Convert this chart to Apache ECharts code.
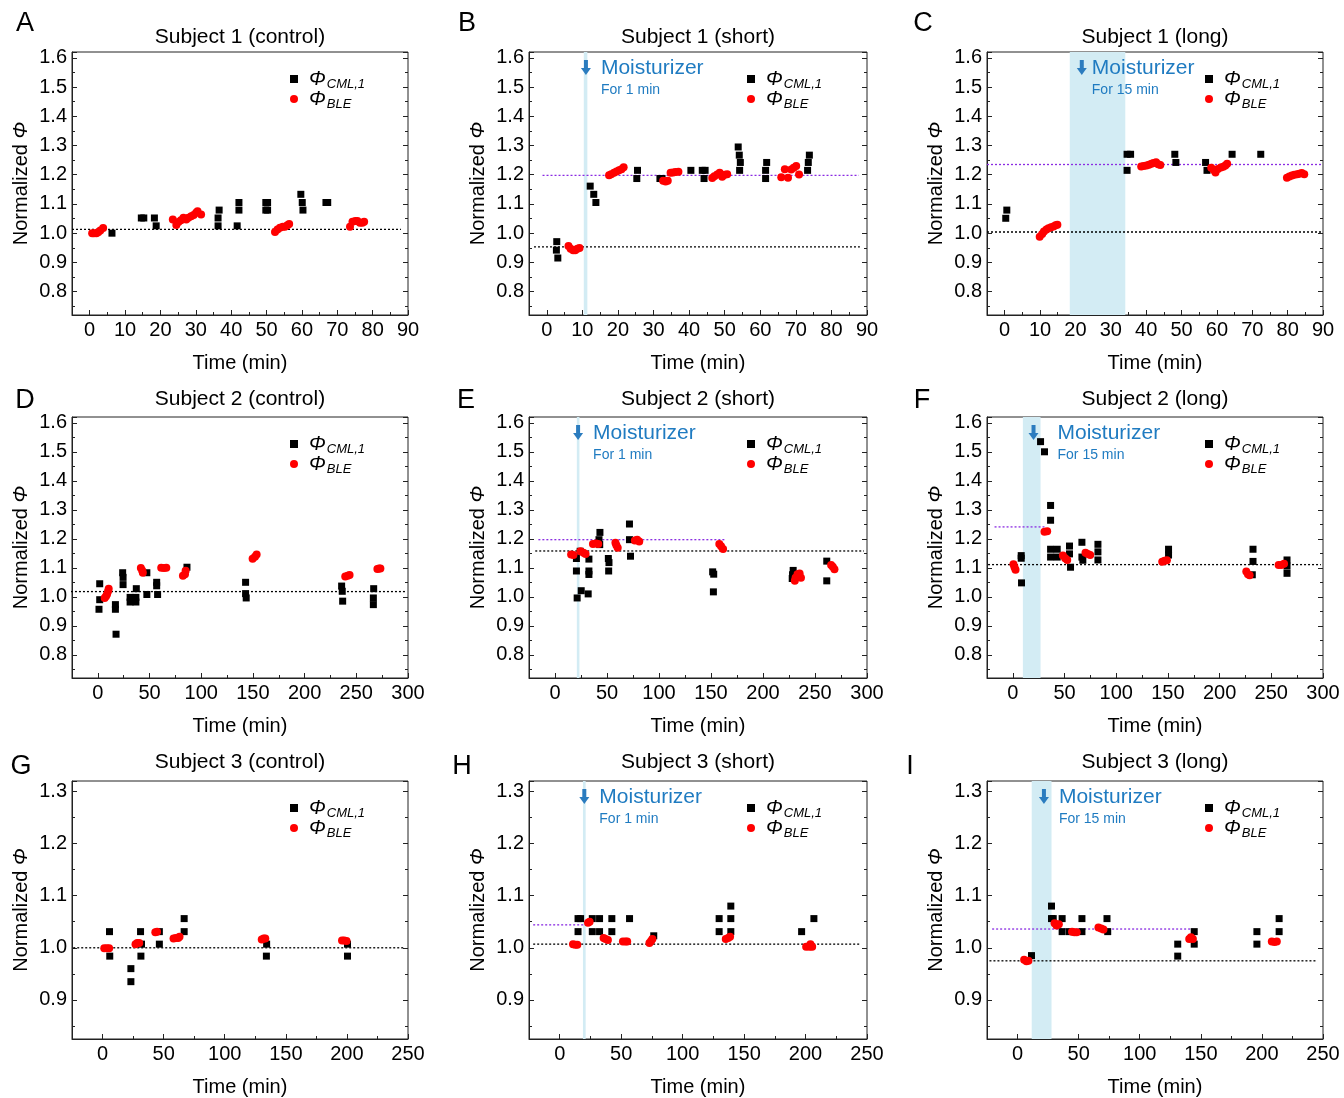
<!DOCTYPE html>
<html>
<head>
<meta charset="utf-8">
<script src="https://cdn.jsdelivr.net/npm/echarts@6/dist/echarts.min.js"></script>
<style>
  html, body { margin: 0; padding: 0; background: #fff; }
  #main { width: 1344px; height: 1098px; }
</style>
</head>
<body>
<div id="main"></div>
<script>
// ---- data (time in min, normalized phi) ----
var cmlA = [[6.3,1.0],[14.6,1.052],[15.3,1.052],[18.3,1.052],[18.8,1.025],[36.3,1.052],[36.3,1.025],[36.6,1.079],[41.7,1.025],[42.2,1.079],[42.2,1.105],[49.8,1.079],[50.3,1.079],[49.8,1.105],[50.3,1.105],[59.7,1.133],[60.1,1.105],[60.3,1.079],[66.8,1.105],[67.3,1.105]];
var bleA = [[0.7,1.0],[1.2,1.0],[1.9,1.0],[2.4,1.003],[3.0,1.009],[3.8,1.018],[23.5,1.047],[24.5,1.028],[25.1,1.038],[25.8,1.044],[26.5,1.053],[27.3,1.047],[27.9,1.053],[28.7,1.058],[29.4,1.062],[30.1,1.07],[30.5,1.075],[31.5,1.064],[52.4,1.004],[53.1,1.013],[53.8,1.019],[54.6,1.022],[55.2,1.022],[55.9,1.027],[56.4,1.031],[73.6,1.022],[74.3,1.039],[75.1,1.042],[75.7,1.042],[76.4,1.036],[77.1,1.036],[77.6,1.039]];
var baseA = [[-5,1.013],[88,1.013]];

var cmlB = [[2.8,0.971],[2.7,0.942],[3.1,0.915],[12.2,1.161],[13.2,1.133],[13.8,1.105],[25.3,1.187],[25.5,1.215],[31.8,1.187],[32.4,1.187],[40.5,1.215],[43.7,1.215],[44.5,1.215],[44.2,1.187],[53.8,1.295],[54.1,1.267],[54.4,1.242],[54.2,1.215],[61.5,1.187],[61.5,1.215],[61.8,1.242],[73.3,1.215],[73.5,1.242],[73.8,1.267]];
var bleB = [[6.1,0.956],[6.7,0.947],[7.4,0.942],[8.0,0.942],[8.6,0.947],[9.2,0.949],[17.5,1.198],[18.1,1.202],[18.9,1.207],[19.6,1.211],[20.3,1.215],[21.0,1.219],[21.6,1.226],[32.7,1.179],[33.4,1.177],[34.0,1.179],[34.8,1.207],[35.5,1.208],[36.2,1.209],[37.0,1.21],[46.5,1.189],[47.1,1.195],[47.9,1.201],[48.6,1.207],[49.3,1.193],[50.0,1.2],[50.7,1.202],[65.9,1.191],[66.9,1.219],[67.8,1.19],[68.7,1.218],[69.4,1.224],[70.1,1.23],[70.9,1.201]];
var baseB = [[-3.6,0.953],[88,0.953]];
var meanB = [[-1.2,1.198],[87.7,1.198]];
var bandB = [10.4, 11.4];

var cmlC = [[0.3,1.051],[0.6,1.079],[34.6,1.215],[34.6,1.27],[35.6,1.27],[48.1,1.27],[48.4,1.242],[56.8,1.242],[57.2,1.215],[64.3,1.27],[72.4,1.27]];
var bleC = [[9.9,0.988],[10.6,0.997],[11.1,1.006],[11.8,1.013],[12.4,1.017],[13.1,1.02],[13.8,1.023],[14.4,1.027],[14.9,1.029],[38.6,1.228],[39.3,1.23],[40.1,1.232],[40.8,1.234],[41.5,1.238],[42.1,1.24],[42.8,1.243],[43.4,1.236],[44.0,1.233],[58.4,1.224],[59.1,1.216],[59.6,1.208],[60.3,1.22],[61.1,1.225],[61.8,1.227],[62.4,1.232],[62.9,1.238],[79.8,1.19],[80.5,1.194],[81.2,1.197],[81.9,1.2],[82.7,1.202],[83.3,1.203],[84.0,1.206],[84.7,1.202]];
var baseC = [[-5,1.004],[89.7,1.004]];
var meanC = [[-5,1.235],[90,1.235]];
var bandC = [18.4, 34.1];

var cmlD = [[1.8,1.045],[1.8,0.99],[1.1,0.957],[17,0.973],[17,0.957],[17.6,0.871],[24,1.083],[24.4,1.067],[24.4,1.042],[31.2,0.998],[31.2,0.982],[36.8,0.998],[36.8,0.982],[37.2,1.028],[47.4,1.083],[47.4,1.008],[56.9,1.05],[56.9,1.038],[57.8,1.008],[86.2,1.102],[142.9,1.05],[142.9,1.011],[143.5,0.996],[235.8,1.037],[236.4,1.019],[236.8,0.985],[266.8,1.028],[266.5,0.996],[266.5,0.973]];
var bleD = [[6.6,0.996],[7.9,1.002],[8.9,1.009],[9.9,1.019],[10.5,1.028],[41.6,1.099],[42.9,1.091],[43.5,1.083],[61.3,1.1],[63.9,1.099],[66.2,1.1],[82.3,1.073],[84.3,1.078],[84.9,1.09],[149.7,1.131],[152,1.138],[153.6,1.146],[239.3,1.07],[241.6,1.073],[243.5,1.075],[270.4,1.096],[272,1.098],[273.3,1.098]];
var baseD = [[-26,1.018],[298,1.018]];

var cmlE = [[20.6,1.132],[20.6,1.089],[21.3,0.996],[24.2,1.157],[25.2,1.021],[32.6,1.13],[32.6,1.089],[32.6,1.077],[31.9,1.01],[43.2,1.222],[42.3,1.197],[43,1.18],[51.3,1.132],[51.9,1.118],[51.6,1.089],[71.6,1.251],[71.6,1.197],[72.6,1.14],[151.6,1.086],[152.6,1.078],[152.3,1.017],[229,1.091],[228.4,1.076],[228.1,1.063],[261.3,1.123],[261.3,1.055]];
var bleE = [[15.5,1.146],[17.7,1.144],[24.5,1.157],[27.4,1.152],[29.4,1.148],[36.5,1.182],[39.4,1.184],[41.6,1.182],[58.1,1.186],[59,1.178],[60.3,1.169],[76.8,1.194],[79,1.197],[81,1.191],[158,1.182],[159.7,1.174],[161.6,1.165],[230.6,1.055],[231.3,1.066],[233.2,1.078],[235.2,1.08],[236.5,1.066],[265.5,1.11],[267.1,1.104],[268.7,1.095]];
var baseE = [[-19,1.158],[297,1.158]];
var meanE = [[-16,1.197],[163.5,1.197]];
var bandE = [21, 23.5];

var cmlF = [[8.1,1.142],[8.1,1.133],[8.4,1.048],[26.8,1.535],[30.6,1.5],[36.5,1.315],[36.5,1.264],[36.5,1.164],[36.5,1.137],[42.9,1.164],[42.9,1.137],[54.8,1.175],[54.8,1.148],[55.8,1.102],[66.8,1.188],[66.8,1.137],[67.7,1.126],[82.3,1.181],[82.3,1.155],[82.3,1.127],[150.6,1.164],[150.6,1.144],[232.3,1.164],[232.3,1.122],[231.6,1.076],[265.2,1.127],[265.2,1.106],[265.2,1.081]];
var bleF = [[0.6,1.112],[1.6,1.102],[2.6,1.093],[30.6,1.224],[33.2,1.226],[48.4,1.142],[50.6,1.133],[52.6,1.127],[70.3,1.152],[72.6,1.148],[74.8,1.144],[144.5,1.121],[146.8,1.124],[149,1.126],[225.8,1.087],[227.4,1.078],[229,1.074],[257.1,1.11],[259.7,1.11],[262.3,1.114]];
var baseF = [[-24,1.111],[298,1.111]];
var meanF = [[-17.7,1.241],[30.6,1.241]];
var bandF = [9.7, 26.8];

var cmlG = [[5.7,1.031],[5.9,0.984],[23.2,0.96],[23.2,0.935],[31.1,1.031],[31.9,1.007],[31.4,0.984],[46.5,1.031],[46.5,1.007],[66.8,1.056],[66.8,1.031],[134.3,1.007],[134.1,0.984],[200.5,1.007],[200.5,0.984]];
var bleG = [[1.4,0.999],[3.5,0.999],[5.4,0.999],[27,1.007],[28.4,1.009],[30,1.009],[43.2,1.03],[44.6,1.031],[58.1,1.018],[60,1.019],[61.9,1.019],[63,1.021],[130.3,1.016],[131.9,1.018],[133.2,1.018],[196,1.014],[197.8,1.014],[199.7,1.013]];
var baseG = [[-24,1.0],[247,1.0]];

var cmlH = [[14.9,1.056],[17,1.056],[14.9,1.031],[26.5,1.056],[26.5,1.031],[32.4,1.056],[32.4,1.031],[42.4,1.056],[42.4,1.031],[56.8,1.056],[76.5,1.023],[129.7,1.056],[129.7,1.031],[139.2,1.08],[139.2,1.056],[139.2,1.031],[196.8,1.031],[206.8,1.056]];
var bleH = [[10.8,1.007],[12.7,1.006],[14.3,1.006],[23,1.048],[24.3,1.05],[35.7,1.019],[37.3,1.017],[39.2,1.015],[51.4,1.012],[53.5,1.012],[54.9,1.012],[73,1.009],[74.3,1.013],[75.4,1.017],[135.1,1.017],[137,1.019],[138.6,1.021],[200.5,1.002],[203.2,1.002],[204,1.007],[205.4,1.002]];
var baseH = [[-21.6,1.007],[243.8,1.007]];
var meanH = [[-21.6,1.044],[23,1.044]];
var bandH = [18.9, 21.1];

var cmlI = [[11.4,0.985],[27.8,1.08],[27.8,1.056],[29.2,1.056],[36.5,1.056],[36.5,1.031],[42.4,1.031],[52.7,1.056],[52.7,1.031],[73.2,1.056],[73.8,1.031],[131.1,1.007],[131.1,0.984],[144.6,1.031],[144.6,1.007],[195.9,1.031],[195.9,1.007],[214.1,1.056],[214.1,1.031]];
var bleI = [[5.4,0.977],[7.3,0.974],[8.9,0.975],[30.3,1.047],[31.9,1.043],[33.8,1.045],[44.6,1.031],[46.5,1.03],[48.4,1.03],[66.2,1.039],[68.4,1.037],[70.3,1.035],[140.5,1.017],[141.9,1.02],[143.5,1.017],[208.1,1.012],[210.3,1.011],[212.2,1.012]];
var baseI = [[-23,0.975],[244,0.975]];
var meanI = [[-20.8,1.036],[143.2,1.036]];
var bandI = [11.6, 27.8];

var titles = ['Subject 1 (control)', 'Subject 1 (short)', 'Subject 1 (long)',
              'Subject 2 (control)', 'Subject 2 (short)', 'Subject 2 (long)',
              'Subject 3 (control)', 'Subject 3 (short)', 'Subject 3 (long)'];
var letters = ['A', 'B', 'C', 'D', 'E', 'F', 'G', 'H', 'I'];

// axis ranges per row
var xRanges = [[-5, 90, 10], [-25, 300, 50], [-25, 250, 50]];
var yRanges = [[0.72, 1.62], [0.72, 1.62], [0.825, 1.32]];

var panels = [
  {cml: cmlA, ble: bleA, base: baseA, mean: null,  band: null,  note: null},
  {cml: cmlB, ble: bleB, base: baseB, mean: meanB, band: bandB, note: {x: 11,   dx: 15, txt: 'For 1 min'}},
  {cml: cmlC, ble: bleC, base: baseC, mean: meanC, band: bandC, note: {x: 21.8, dx: 10, txt: 'For 15 min'}},
  {cml: cmlD, ble: bleD, base: baseD, mean: null,  band: null,  note: null},
  {cml: cmlE, ble: bleE, base: baseE, mean: meanE, band: bandE, note: {x: 22.2, dx: 15, txt: 'For 1 min'}},
  {cml: cmlF, ble: bleF, base: baseF, mean: meanF, band: bandF, note: {x: 20,   dx: 24, txt: 'For 15 min'}},
  {cml: cmlG, ble: bleG, base: baseG, mean: null,  band: null,  note: null},
  {cml: cmlH, ble: bleH, base: baseH, mean: meanH, band: bandH, note: {x: 20,   dx: 15, txt: 'For 1 min'}},
  {cml: cmlI, ble: bleI, base: baseI, mean: meanI, band: bandI, note: {x: 21.6, dx: 15, txt: 'For 15 min'}}
];

var FONT = '"Liberation Sans", Arial, Helvetica, sans-serif';
var BLUE = '#1f7bc1';
var gridLeft = [72, 529, 987], gridWidth = [336, 338, 336];
var gridTop = [52, 417, 781], gridHeight = [263, 261, 261];

var dom = document.getElementById('main');
var myChart = echarts.init(dom, null, {renderer: 'canvas'});

var grids = [], xAxes = [], yAxes = [], series = [], legends = [];

panels.forEach(function (p, i) {
  var col = i % 3, row = Math.floor(i / 3);
  var xr = xRanges[row], yr = yRanges[row];
  var step = xr[2];
  grids.push({
    left: gridLeft[col], top: gridTop[row], width: gridWidth[col], height: gridHeight[row],
    show: true, borderColor: '#222', borderWidth: 1, backgroundColor: 'transparent'
  });
  xAxes.push({
    gridIndex: i, type: 'value', min: xr[0], max: xr[1],
    splitNumber: Math.round((xr[1] - xr[0]) / step),
    name: 'Time (min)', nameLocation: 'middle', nameGap: 38,
    nameTextStyle: {fontSize: 20, color: '#000', fontFamily: FONT},
    axisLine: {show: true, onZero: false, lineStyle: {color: '#222', width: 1}},
    axisTick: {show: true, inside: true, length: 5, lineStyle: {color: '#222'}},
    minorTick: {show: true, splitNumber: 2, length: 3, lineStyle: {color: '#222'}},
    splitLine: {show: false},
    axisLabel: {
      fontSize: 20, color: '#000', margin: 5, fontFamily: FONT, showMinLabel: false,
      formatter: function (v) {
        return Math.abs(v - Math.round(v / step) * step) < 1e-6 ? String(Math.round(v)) : '';
      }
    }
  });
  var yBase = {
    gridIndex: i, type: 'value', min: yr[0], max: yr[1],
    splitNumber: Math.round((yr[1] - yr[0]) / 0.1),
    splitLine: {show: false},
    axisTick: {show: true, inside: true, length: 5, lineStyle: {color: '#222'}},
    minorTick: {show: true, splitNumber: 2, length: 3, lineStyle: {color: '#222'}}
  };
  yAxes.push(Object.assign({}, yBase, {
    position: 'left',
    name: 'Normalized {i|Φ}', nameLocation: 'middle', nameGap: 41,
    nameTextStyle: {fontSize: 20, color: '#000', fontFamily: FONT,
      rich: {i: {fontSize: 20, fontStyle: 'italic', color: '#000', fontFamily: FONT}}},
    axisLine: {show: true, onZero: false, lineStyle: {color: '#222', width: 1}},
    axisLabel: {
      fontSize: 20, color: '#000', margin: 5, fontFamily: FONT,
      formatter: function (v) {
        return Math.abs(v * 10 - Math.round(v * 10)) < 1e-6 ? v.toFixed(1) : '';
      }
    }
  }));
  yAxes.push(Object.assign({}, yBase, {
    position: 'right',
    axisLine: {show: false, onZero: false},
    axisLabel: {show: false}
  }));

  var xi = i, yi = 2 * i;
  if (p.band) {
    series.push({
      type: 'scatter', xAxisIndex: xi, yAxisIndex: yi, data: [], silent: true, z: 1,
      markArea: {
        silent: true, itemStyle: {color: '#d3ecf4'},
        data: [[{xAxis: p.band[0]}, {xAxis: p.band[1]}]]
      }
    });
  }
  series.push({
    type: 'line', xAxisIndex: xi, yAxisIndex: yi, data: p.base, symbol: 'none', silent: true, z: 3,
    lineStyle: {color: '#000', width: 1.3, type: [2, 2]}
  });
  if (p.mean) {
    series.push({
      type: 'line', xAxisIndex: xi, yAxisIndex: yi, data: p.mean, symbol: 'none', silent: true, z: 3,
      lineStyle: {color: '#8a2be2', width: 1.3, type: [2, 2]}
    });
  }
  series.push({
    name: 'cml', type: 'scatter', xAxisIndex: xi, yAxisIndex: yi, data: p.cml,
    symbol: 'rect', symbolSize: 7, itemStyle: {color: '#000', opacity: 1}, z: 4
  });
  series.push({
    name: 'ble', type: 'scatter', xAxisIndex: xi, yAxisIndex: yi, data: p.ble,
    symbol: 'circle', symbolSize: 8, itemStyle: {color: '#ff0000', opacity: 1}, z: 5
  });

  legends.push({
    orient: 'vertical', left: gridLeft[col] + 218, top: gridTop[row] + 15,
    padding: 0, itemGap: -4, itemWidth: 8, itemHeight: 8, selectedMode: false,
    data: [{name: 'cml', icon: 'rect'}, {name: 'ble', icon: 'circle'}],
    formatter: function (name) {
      return name === 'cml' ? '{p|Φ}{s|CML,1}' : '{p|Φ}{s|BLE}';
    },
    textStyle: {
      color: '#000', fontFamily: FONT,
      rich: {
        p: {fontSize: 20, fontStyle: 'italic', color: '#000', lineHeight: 18, padding: [0, 0, 0, 6], fontFamily: FONT},
        s: {fontSize: 13, fontStyle: 'italic', color: '#000', lineHeight: 18, padding: [11, 0, 0, 1], fontFamily: FONT}
      }
    }
  });
});

var option = {
  animation: false,
  backgroundColor: '#fff',
  textStyle: {fontFamily: FONT},
  grid: grids,
  xAxis: xAxes,
  yAxis: yAxes,
  legend: legends,
  series: series
};
myChart.setOption(option);

// titles, panel letters and moisturizer notes
var graphics = [];
var titleY = [37, 399, 762];
var letterPos = [[25, 24], [467, 24], [923, 24], [25, 401], [466, 401], [922, 401], [21, 767], [462, 767], [910, 767]];
panels.forEach(function (p, i) {
  var col = i % 3, row = Math.floor(i / 3);
  graphics.push({
    type: 'text', x: gridLeft[col] + gridWidth[col] / 2, y: titleY[row], silent: true, z: 100,
    style: {text: titles[i], fill: '#000', font: '21px ' + FONT, align: 'center', verticalAlign: 'middle'}
  });
  graphics.push({
    type: 'text', x: letterPos[i][0], y: letterPos[i][1], silent: true, z: 100,
    style: {text: letters[i], fill: '#000', font: '27px ' + FONT, align: 'center', verticalAlign: 'middle'}
  });
  if (p.note) {
    var px = myChart.convertToPixel({xAxisIndex: i}, p.note.x);
    var top = gridTop[row];
    graphics.push({
      type: 'group', x: px, y: top + 8, silent: true, z: 100,
      children: [
        {type: 'rect', z: 100, shape: {x: -2, y: 0, width: 4, height: 9}, style: {fill: '#2b7cbf'}},
        {type: 'polygon', z: 100, shape: {points: [[-5, 8], [5, 8], [0, 15]]}, style: {fill: '#2b7cbf'}}
      ]
    });
    graphics.push({
      type: 'text', x: px + p.note.dx, y: top + 16, silent: true, z: 100,
      style: {text: 'Moisturizer', fill: BLUE, font: '21px ' + FONT, verticalAlign: 'middle'}
    });
    graphics.push({
      type: 'text', x: px + p.note.dx, y: top + 38, silent: true, z: 100,
      style: {text: p.note.txt, fill: BLUE, font: '14px ' + FONT, verticalAlign: 'middle'}
    });
  }
});
myChart.setOption({graphic: graphics});

window.addEventListener('resize', myChart.resize);
</script>
</body>
</html>
